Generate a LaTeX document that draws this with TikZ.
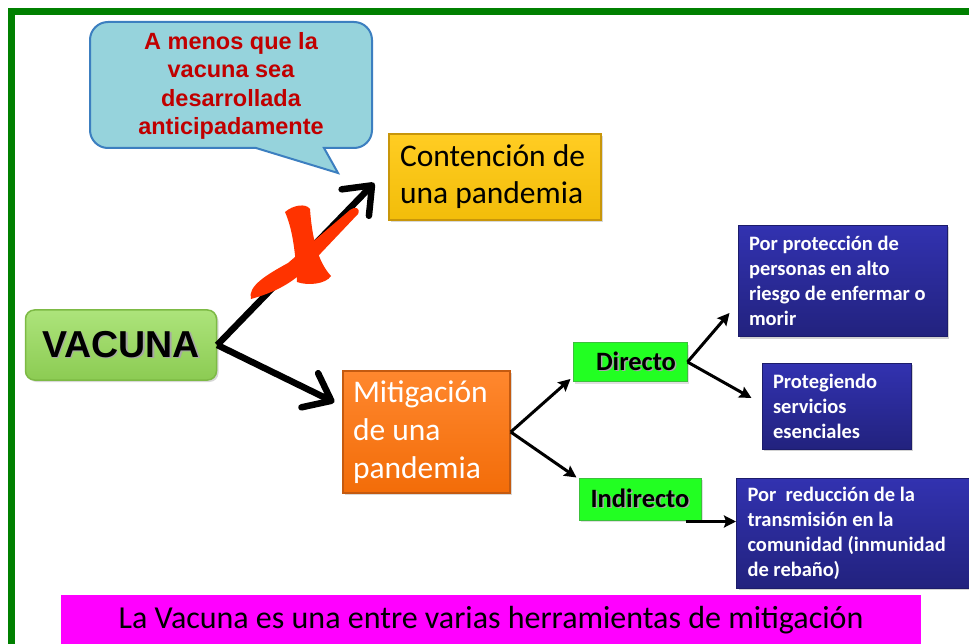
\documentclass[tikz,border=0pt]{standalone}
\usepackage{fontspec}
\setmainfont{Carlito}
\newfontfamily\arialf{Liberation Sans}
\usetikzlibrary{arrows.meta,calc,shadows}
\definecolor{frameg}{HTML}{008000}
\definecolor{bubfill}{HTML}{96D3DC}
\definecolor{bubline}{HTML}{3C7FC0}
\definecolor{bubtext}{HTML}{C00000}
\definecolor{contf}{HTML}{FFC70A}
\definecolor{contl}{HTML}{C8960A}
\definecolor{mitf}{HTML}{FF7209}
\definecolor{mitl}{HTML}{C45A10}
\definecolor{vacf}{HTML}{98DD5A}
\definecolor{vacl}{HTML}{7DBA45}
\definecolor{grnf}{HTML}{22FF22}
\definecolor{grnl}{HTML}{3CC03C}
\definecolor{blutop}{HTML}{3232B0}
\definecolor{blubot}{HTML}{22227E}
\definecolor{blul}{HTML}{1C1C6A}
\definecolor{mag}{HTML}{FF00FF}
\definecolor{redx}{HTML}{FF3300}
\newcommand{\shtext}[1]{\makebox[0pt][l]{\raisebox{-1.5pt}{\hspace{1.5pt}\textcolor{black!35}{#1}}}#1}
\tikzset{
  bigarrow/.style={line width=6.5pt, line cap=butt, -{Straight Barb[length=24pt,width=38pt,round]}},
  smallarrow/.style={line width=3pt, -{Stealth[length=12pt,width=12pt,inset=2pt]}},
  bluebox/.style={draw=blul, line width=1pt, top color=blutop, bottom color=blubot, text=white,
     font=\bfseries\fontsize{20.5}{25}\selectfont, align=flush left, inner xsep=11pt,
     drop shadow={shadow xshift=2pt, shadow yshift=-2pt, opacity=.35}},
  greenbox/.style={draw=grnl, line width=1pt, fill=grnf, font=\bfseries\fontsize{26.5}{30}\selectfont,
     drop shadow={shadow xshift=2pt, shadow yshift=-2pt, opacity=.25}},
}
\begin{document}
\begin{tikzpicture}[x=1pt,y=-1pt]
\useasboundingbox (0,0) rectangle (969,644);
\fill[white] (0,0) rectangle (969,644);
% frame
\draw[frameg, line width=7pt] (11.5,700) -- (11.5,12) -- (1000,12);

% speech bubble
\filldraw[fill=bubfill, draw=bubline, line width=2pt]
  (256,148) -- (338,173) -- (324,148)
  [rounded corners=18pt] -- (372,148) -- (372,22) -- (90,22) -- (90,148) [sharp corners] -- cycle;
\node[font=\arialf\bfseries\fontsize{23.5}{28.5}\selectfont, text=bubtext, align=center] (bub) at (231,86)
  {A menos que la\\vacuna sea\\desarrollada\\anticipadamente};

% main boxes
\node[draw=contl, line width=1.5pt, top color=contf!90!white, bottom color=contf!95!black,
      minimum width=212pt, minimum height=86pt, text width=190pt, inner xsep=11pt, align=flush left,
      font=\fontsize{31.5}{37}\selectfont,
      drop shadow={shadow xshift=2pt, shadow yshift=-2pt, opacity=.3}] (cont) at (495,177)
  {\raisebox{-2pt}{Contención de}\\\raisebox{-2pt}{una pandemia}};

\node[draw=mitl, line width=1.5pt, top color=mitf!85!white, bottom color=mitf!95!black, text=white,
      minimum width=167pt, minimum height=122pt, text width=147pt, inner xsep=10pt, align=flush left,
      font=\fontsize{31.5}{38}\selectfont,
      drop shadow={shadow xshift=2pt, shadow yshift=-2pt, opacity=.3}] (mit) at (426.5,432)
  {Mitigación\\de una\\pandemia};

\node[draw=vacl, line width=1.5pt, rounded corners=9pt, top color=vacf!80!white, bottom color=vacf!92!black,
      minimum width=191pt, minimum height=70pt, font=\arialf\bfseries\fontsize{37.5}{40}\selectfont,
      drop shadow={shadow xshift=2pt, shadow yshift=-2pt, opacity=.3}] (vac) at (121,345)
  {\shtext{VACUNA}};

\node[greenbox, minimum width=114pt, minimum height=39pt] (dir) at (630,362) {\hspace{12pt}\shtext{Directo}};
\node[greenbox, minimum width=122pt, minimum height=42pt] (ind) at (640,499) {\shtext{Indirecto}};

\node[bluebox, minimum width=209pt, minimum height=111pt, text width=187pt] (b1) at (842.5,281)
  {\raisebox{-2pt}{Por protección de}\\\raisebox{-2pt}{personas en alto}\\\raisebox{-2pt}{riesgo de enfermar o}\\\raisebox{-2pt}{morir}};
\node[bluebox, minimum width=149pt, minimum height=86pt, text width=127pt] (b2) at (836.5,406)
  {Protegiendo\\servicios\\esenciales};
\node[bluebox, anchor=west, minimum width=244pt, minimum height=110pt, text width=222pt] (b3) at (736,533)
  {Por~ reducción de la\\transmisión en la\\comunidad (inmunidad\\de rebaño)};

\node[fill=mag, minimum width=860pt, minimum height=50pt, font=\fontsize{32}{36}\selectfont] (bar) at (491,620)
  {La Vacuna es una entre varias herramientas de mitigación};

% arrows
\draw[bigarrow] (vac.east) -- ($(cont.west)+(-14,6)$);
\draw[bigarrow] (vac.east) -- ($(mit.north west)+(-8,32)$);
\draw[smallarrow] (mit.east) -- ($(dir.south west)+(-2,-3)$);
\draw[smallarrow] (mit.east) -- ($(ind.north west)+(-2,0)$);
\draw[smallarrow] (dir.east) -- ($(b1.south west)+(-8,-24)$);
\draw[smallarrow] (dir.east) -- ($(b2.west)+(-10,-8)$);
\draw[smallarrow] ($(ind.south east)+(-16,1)$) -- ($(b3.west |- ind.south east)+(0,1)$);

% red X
\fill[redx] (285,212) .. controls (293,205) and (306,203) .. (310,209)
  .. controls (312,238) and (318,262) .. (331,276)
  .. controls (326,284) and (308,286) .. (297,282)
  .. controls (296,262) and (294,232) .. (285,212) -- cycle;
\fill[redx] (251,299) .. controls (247,286) and (268,274) .. (288,263) -- (350,210)
  .. controls (355,206) and (361,208) .. (358,214) -- (303,272)
  .. controls (285,288) and (268,294) .. (251,299) -- cycle;
\end{tikzpicture}
\end{document}
